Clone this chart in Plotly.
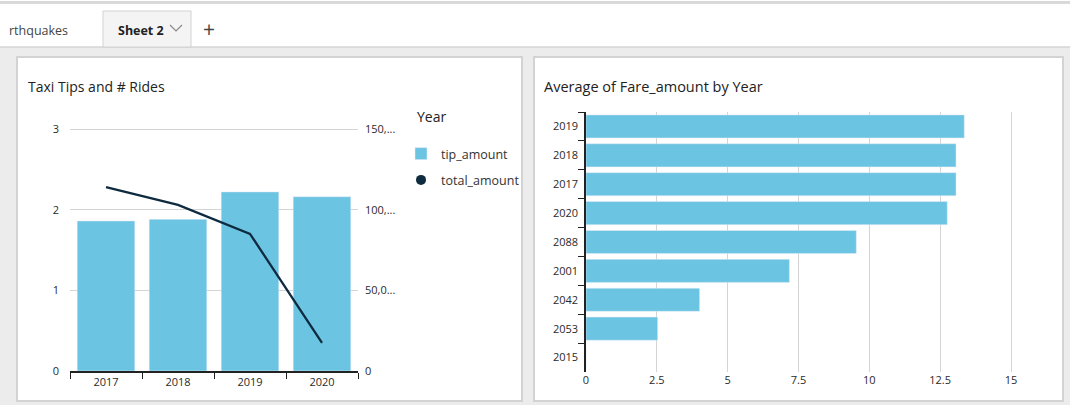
import plotly.graph_objects as go

# ---- data ----
tip_years = ["2017", "2018", "2019", "2020"]
tip_amount = [1.86, 1.88, 2.22, 2.16]
total_amount = [114000, 103000, 85000, 17500]

fare_years = ["2019", "2018", "2017", "2020", "2088", "2001", "2042", "2053", "2015"]
fare_amount = [13.35, 13.06, 13.06, 12.75, 9.54, 7.18, 4.01, 2.53, 0]

y2_ticks = [0, 50000, 100000, 150000]
y2_labels = ["0", "50,0...", "100,...", "150,..."]

W, H = 1070, 405
BAR = "#6cc4e3"
LINE = "#0e2b3f"
FONT = "Open Sans, Noto Sans, sans-serif"


def px(x):
    return x / W


def py(y):
    return 1 - y / H


fig = go.Figure()

# left chart: bars + line on secondary axis
fig.add_trace(go.Bar(
    x=tip_years, y=tip_amount, name="tip_amount", marker_color=BAR,
    xaxis="x", yaxis="y", legendgroup="a",
))
fig.add_trace(go.Scatter(
    x=tip_years, y=total_amount, mode="lines", line=dict(color=LINE, width=2.3),
    xaxis="x", yaxis="y2", showlegend=False,
))
fig.add_trace(go.Scatter(
    x=[None], y=[None], mode="markers", name="total_amount",
    marker=dict(color=LINE, size=10, symbol="circle"),
    xaxis="x", yaxis="y2", legendgroup="b",
))

# right chart: horizontal bars
fig.add_trace(go.Bar(
    y=fare_years, x=fare_amount, orientation="h", marker_color=BAR,
    xaxis="x3", yaxis="y3", showlegend=False,
))

tick_font = dict(family=FONT, size=11, color="#2a2a2a")
GRID = "#d4d4d4"

# small headroom so the top / right gridlines are still drawn
Y_TOP = 3.03          # left value axis, 3 sits at y=129
Y2_TOP = 150000 * Y_TOP / 3
X_RIGHT = 15.1        # right value axis, 15 sits at x=1011

shapes = [
    # page background
    dict(type="rect", xref="paper", yref="paper", x0=0, x1=1, y0=0, y1=py(47),
         fillcolor="#ececec", line_width=0, layer="below"),
    # top border line
    dict(type="rect", xref="paper", yref="paper", x0=0, x1=1, y0=py(4), y1=py(1),
         fillcolor="#d9d9d9", line_width=0, layer="below"),
    # line under tab row
    dict(type="line", xref="paper", yref="paper", x0=0, x1=1, y0=py(47), y1=py(47),
         line=dict(color="#d4d4d4", width=1.5), layer="below"),
    # active tab
    dict(type="rect", xref="paper", yref="paper", x0=px(103), x1=px(191), y0=py(47), y1=py(11),
         fillcolor="#f4f4f4", line=dict(color="#d2d2d2", width=1), layer="below"),
    # chevron on active tab
    dict(type="path", xref="paper", yref="paper",
         path=f"M {px(170)} {py(25)} L {px(176)} {py(31)} L {px(182)} {py(25)}",
         line=dict(color="#8a8a8a", width=1.2)),
    # left panel
    dict(type="rect", xref="paper", yref="paper", x0=px(17), x1=px(522), y0=py(401), y1=py(57),
         fillcolor="white", line=dict(color="#d3d3d3", width=2), layer="below"),
    # right panel
    dict(type="rect", xref="paper", yref="paper", x0=px(534), x1=px(1063), y0=py(401), y1=py(57),
         fillcolor="white", line=dict(color="#d3d3d3", width=2), layer="below"),
]

annotations = [
    dict(text="rthquakes", x=px(7), y=py(30), xref="paper", yref="paper",
         xanchor="left", yanchor="middle", showarrow=False,
         font=dict(family=FONT, size=12.5, color="#444")),
    dict(text="<b>Sheet 2</b>", x=px(116), y=py(30), xref="paper", yref="paper",
         xanchor="left", yanchor="middle", showarrow=False,
         font=dict(family=FONT, size=12.5, color="#222")),
    dict(text="+", x=px(209), y=py(29), xref="paper", yref="paper",
         xanchor="center", yanchor="middle", showarrow=False,
         font=dict(family=FONT, size=21, color="#444")),
    dict(text="Taxi Tips and # Rides", x=px(26), y=py(86), xref="paper", yref="paper",
         xanchor="left", yanchor="middle", showarrow=False,
         font=dict(family=FONT, size=14, color="#222")),
    dict(text="Average of Fare_amount by Year", x=px(542), y=py(86), xref="paper", yref="paper",
         xanchor="left", yanchor="middle", showarrow=False,
         font=dict(family=FONT, size=14.5, color="#222")),
    dict(text="Year", x=px(415), y=py(117), xref="paper", yref="paper",
         xanchor="left", yanchor="middle", showarrow=False,
         font=dict(family=FONT, size=14, color="#222")),
]

fig.update_layout(
    width=W, height=H,
    margin=dict(l=0, r=0, t=0, b=0, pad=0, autoexpand=False),
    paper_bgcolor="white", plot_bgcolor="rgba(0,0,0,0)",
    font=dict(family=FONT, color="#333"),
    bargap=0.2,
    barmode="group",
    shapes=shapes,
    annotations=annotations,
    legend=dict(
        x=px(401), y=py(139), xanchor="left", yanchor="top",
        font=dict(family=FONT, size=12.5, color="#333"),
        bgcolor="rgba(0,0,0,0)", tracegroupgap=7, itemwidth=30,
    ),
    xaxis=dict(
        domain=[px(70), px(358)], anchor="y", type="category",
        range=[-0.5, 3.5], showline=True, linecolor="#222", linewidth=1.5,
        ticks="outside", tickson="boundaries", ticklen=6, tickcolor="#222",
        tickfont=tick_font, showgrid=False, automargin=False,
    ),
    yaxis=dict(
        domain=[py(371), py(371 - 242 * Y_TOP / 3)], anchor="x", range=[0, Y_TOP],
        tickvals=[0, 1, 2, 3], showgrid=True, gridcolor=GRID, gridwidth=1,
        zeroline=False, showline=False, ticks="", tickfont=tick_font,
        ticklabelstandoff=10, automargin=False,
    ),
    yaxis2=dict(
        overlaying="y", side="right", anchor="x", range=[0, Y2_TOP],
        tickvals=y2_ticks, ticktext=y2_labels, showgrid=False, zeroline=False,
        showline=False, ticks="", tickfont=tick_font, ticklabelstandoff=6,
        automargin=False,
    ),
    xaxis3=dict(
        domain=[px(586), px(586 + 425 * X_RIGHT / 15)], anchor="y3", range=[0, X_RIGHT],
        tickvals=[0, 2.5, 5, 7.5, 10, 12.5, 15], ticktext=["0", "2.5", "5", "7.5", "10", "12.5", "15"],
        showgrid=True, gridcolor=GRID, gridwidth=1, zeroline=False,
        showline=False, ticks="", tickfont=tick_font, automargin=False,
    ),
    yaxis3=dict(
        domain=[py(372), py(112)], anchor="x3", type="category",
        categoryorder="array", categoryarray=fare_years, autorange="reversed",
        showline=True, linecolor="#222", linewidth=1.5,
        ticks="outside", tickson="boundaries", ticklen=6, tickcolor="#222",
        tickfont=tick_font, showgrid=False, ticklabelstandoff=4, automargin=False,
    ),
)

fig.write_html("out.html")
